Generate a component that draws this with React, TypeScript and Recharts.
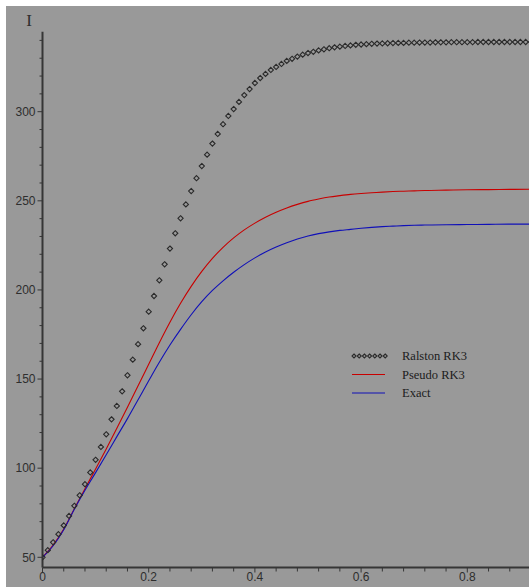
import { LineChart, Line, XAxis, YAxis, Legend } from "recharts";

// Ralston RK3 samples (h = 0.01)
const ralstonTime = [
  0, 0.01, 0.02, 0.03, 0.04, 0.05, 0.06, 0.07, 0.08, 0.09,
  0.1, 0.11, 0.12, 0.13, 0.14, 0.15, 0.16, 0.17, 0.18, 0.19,
  0.2, 0.21, 0.22, 0.23, 0.24, 0.25, 0.26, 0.27, 0.28, 0.29,
  0.3, 0.31, 0.32, 0.33, 0.34, 0.35, 0.36, 0.37, 0.38, 0.39,
  0.4, 0.41, 0.42, 0.43, 0.44, 0.45, 0.46, 0.47, 0.48, 0.49,
  0.5, 0.51, 0.52, 0.53, 0.54, 0.55, 0.56, 0.57, 0.58, 0.59,
  0.6, 0.61, 0.62, 0.63, 0.64, 0.65, 0.66, 0.67, 0.68, 0.69,
  0.7, 0.71, 0.72, 0.73, 0.74, 0.75, 0.76, 0.77, 0.78, 0.79,
  0.8, 0.81, 0.82, 0.83, 0.84, 0.85, 0.86, 0.87, 0.88, 0.89,
  0.9, 0.91, 0.92,
];
const ralstonI = [
  50, 54.0, 58.4, 63.0, 67.9, 73.2, 78.9, 84.8, 91.0, 97.6,
  104.7, 111.9, 119.0, 127.4, 134.9, 143.1, 152.1, 160.9, 169.6, 178.5,
  187.8, 196.6, 205.4, 214.4, 223.2, 231.8, 240.2, 248.0, 255.5, 262.7,
  269.5, 275.9, 282.1, 287.5, 293.0, 297.6, 301.5, 305.5, 309.3, 312.7,
  316.1, 318.9, 321.2, 323.4, 325.1, 326.8, 328.5, 329.7, 330.9, 332.0,
  332.9, 333.6, 334.4, 335.0, 335.6, 336.1, 336.5, 336.9, 337.2, 337.5,
  337.7, 337.9, 338.1, 338.2, 338.3, 338.4, 338.5, 338.6, 338.6, 338.7,
  338.7, 338.8, 338.8, 338.8, 338.9, 338.9, 338.9, 339.0, 339.0, 339.0,
  339.0, 339.0, 339.1, 339.1, 339.1, 339.1, 339.1, 339.1, 339.1, 339.1,
  339.1, 339.1, 339.1,
];

// smooth curves
const curveTime = [
  0, 0.02, 0.04, 0.06, 0.08, 0.1, 0.12, 0.14, 0.16, 0.18,
  0.2, 0.22, 0.24, 0.26, 0.28, 0.3, 0.32, 0.34, 0.36, 0.38,
  0.4, 0.42, 0.44, 0.46, 0.48, 0.5, 0.52, 0.54, 0.56, 0.58,
  0.6, 0.62, 0.64, 0.66, 0.68, 0.7, 0.72, 0.76, 0.8, 0.84, 0.88, 0.92,
];
const pseudoI = [
  50, 56.8, 65.8, 77.2, 88.5, 99.5, 110.8, 122.4, 134.2, 146.2,
  158.3, 170.4, 181.9, 192.5, 202.0, 210.4, 217.7, 223.9, 229.2, 233.7,
  237.5, 240.8, 243.6, 246.0, 248.0, 249.7, 251.0, 252.1, 252.9, 253.6,
  254.1, 254.5, 254.9, 255.2, 255.4, 255.6, 255.8, 256.0, 256.2, 256.3, 256.4, 256.5,
];
const exactI = [
  50, 56.5, 65.5, 77.0, 87.6, 97.5, 107.5, 117.7, 127.8, 138.4,
  149.0, 159.4, 169.1, 177.9, 186.1, 193.4, 199.7, 205.1, 209.9, 214.2,
  218.0, 221.3, 224.1, 226.5, 228.6, 230.3, 231.6, 232.6, 233.4, 234.0,
  234.6, 235.1, 235.5, 235.8, 236.1, 236.3, 236.4, 236.6, 236.7, 236.8, 236.9, 236.9,
];

const seriesNames = ["Ralston RK3", "Pseudo RK3", "Exact"];

const xTicks = [
  0, 0.04, 0.08, 0.12, 0.16, 0.2, 0.24, 0.28, 0.32, 0.36, 0.4, 0.44,
  0.48, 0.52, 0.56, 0.6, 0.64, 0.68, 0.72, 0.76, 0.8, 0.84, 0.88,
];
const yTicks = [
  50, 60, 70, 80, 90, 100, 110, 120, 130, 140, 150, 160, 170, 180, 190,
  200, 210, 220, 230, 240, 250, 260, 270, 280, 290, 300, 310, 320, 330, 340,
];

const ralstonData = ralstonTime.map((t, i) => ({ t, v: ralstonI[i] }));
const pseudoData = curveTime.map((t, i) => ({ t, v: pseudoI[i] }));
const exactData = curveTime.map((t, i) => ({ t, v: exactI[i] }));

const AXIS = "#363636";
const TEXT = "#2e2e2e";
const RED = "#c80000";
const BLUE = "#1010b8";
const DOT = "#2a2a2a";

const Diamond = ({ cx, cy, r = 2.6 }: { cx: number; cy: number; r?: number }) => (
  <path
    d={`M${cx},${cy - r}L${cx + r},${cy}L${cx},${cy + r}L${cx - r},${cy}Z`}
    fill="none"
    stroke={DOT}
    strokeWidth={1.1}
  />
);

const renderDot = (props: any) => {
  const { cx, cy, index } = props;
  if (cx == null || cy == null) return <g key={`d-${index}`} />;
  return <Diamond key={`d-${index}`} cx={cx} cy={cy} />;
};

const YTick = (props: any) => {
  const { x, y, payload } = props;
  const major = payload.value % 50 === 0;
  return (
    <g>
      <line x1={x - (major ? 5 : 3)} x2={x} y1={y} y2={y} stroke={AXIS} strokeWidth={1} />
      {major && (
        <text x={x - 7} y={y + 4.3} textAnchor="end" fontFamily="Liberation Sans, Arial, sans-serif" fontSize={12} fill={TEXT}>
          {payload.value}
        </text>
      )}
    </g>
  );
};

const XTick = (props: any) => {
  const { x, y, payload } = props;
  const v = payload.value;
  const major = Math.abs(v * 5 - Math.round(v * 5)) < 1e-6;
  return (
    <g>
      <line x1={x} x2={x} y1={y} y2={y + (major ? 5 : 4)} stroke={AXIS} strokeWidth={1} />
      {major && (
        <text x={x} y={y + 13} textAnchor="middle" fontFamily="Liberation Sans, Arial, sans-serif" fontSize={12} fill={TEXT}>
          {String(v)}
        </text>
      )}
    </g>
  );
};

const AxisTitle = (props: any) => {
  const vb = props.viewBox || { x: 0, y: 0 };
  return (
    <text x={vb.x + 23} y={vb.y - 6} textAnchor="middle" fontFamily="Liberation Serif, serif" fontSize={17} fill={TEXT}>
      I
    </text>
  );
};

const LegendBox = () => {
  const rowY = [11, 29.5, 48];
  return (
    <svg width={150} height={60}>
      {[0, 1, 2, 3, 4, 5, 6].map((k) => (
        <Diamond key={k} cx={9 + k * 5.2} cy={rowY[0]} r={2} />
      ))}
      <line x1={7} x2={40} y1={rowY[1]} y2={rowY[1]} stroke={RED} strokeWidth={1.2} />
      <line x1={7} x2={40} y1={rowY[2]} y2={rowY[2]} stroke={BLUE} strokeWidth={1.2} />
      {seriesNames.map((name, i) => (
        <text key={name} x={57} y={rowY[i] + 4.3} fontFamily="Liberation Serif, serif" fontSize={12.5} fill="#1c1c1c">
          {name}
        </text>
      ))}
    </svg>
  );
};

export default function App() {
  return (
    <div style={{ position: "absolute", left: 6, top: 6, width: 523, height: 581, background: "#999999", overflow: "hidden" }}>
      <LineChart width={523} height={581} margin={{ top: 25.7, right: 0, left: 0, bottom: 0 }}>
        <XAxis
          type="number"
          dataKey="t"
          domain={[0, 0.9162]}
          allowDataOverflow
          ticks={xTicks}
          interval={0}
          tick={<XTick />}
          tickLine={false}
          tickSize={0}
          tickMargin={0}
          height={19.5}
          axisLine={{ stroke: AXIS, strokeWidth: 2 }}
        />
        <YAxis
          type="number"
          dataKey="v"
          domain={[44.28, 344.88]}
          allowDataOverflow
          ticks={yTicks}
          interval={0}
          tick={<YTick />}
          tickLine={false}
          tickSize={0}
          tickMargin={0}
          width={36.5}
          axisLine={{ stroke: AXIS, strokeWidth: 2 }}
          label={<AxisTitle />}
        />
        <Line
          data={ralstonData}
          dataKey="v"
          name={seriesNames[0]}
          stroke="none"
          dot={renderDot}
          activeDot={false}
          isAnimationActive={false}
        />
        <Line
          data={pseudoData}
          dataKey="v"
          name={seriesNames[1]}
          type="monotone"
          stroke={RED}
          strokeWidth={1.1}
          dot={false}
          activeDot={false}
          isAnimationActive={false}
        />
        <Line
          data={exactData}
          dataKey="v"
          name={seriesNames[2]}
          type="monotone"
          stroke={BLUE}
          strokeWidth={1.1}
          dot={false}
          activeDot={false}
          isAnimationActive={false}
        />
        <Legend
          layout="vertical"
          align="center"
          verticalAlign="middle"
          content={<LegendBox />}
          wrapperStyle={{ left: 339, top: 339, width: 150, height: 60 }}
        />
      </LineChart>
    </div>
  );
}
